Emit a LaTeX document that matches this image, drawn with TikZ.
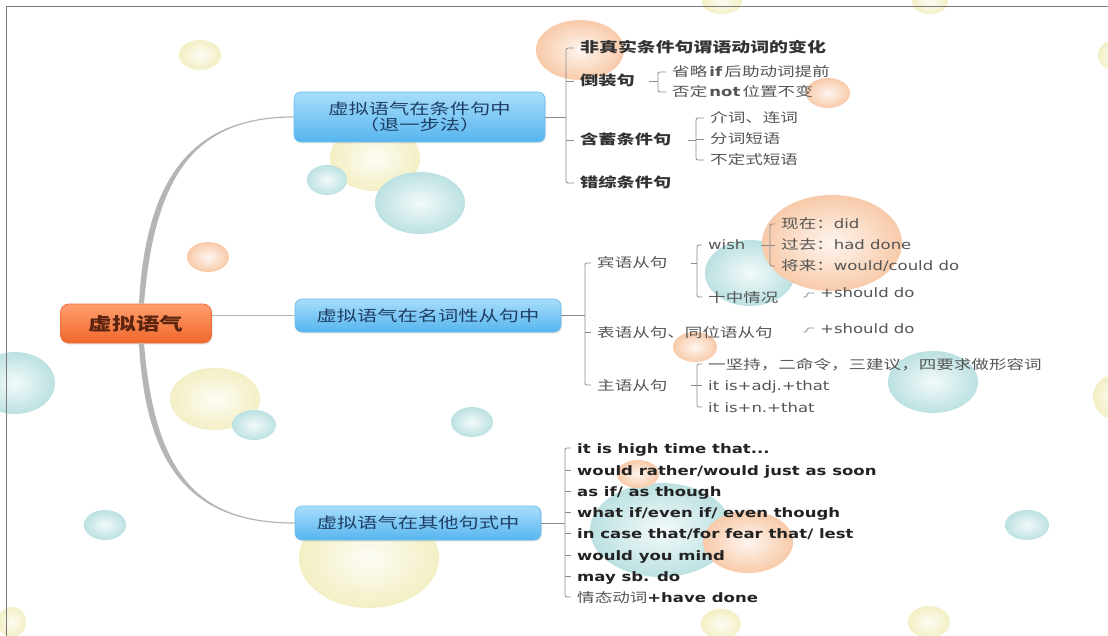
\documentclass[tikz,border=0pt]{standalone}
\usepackage{fontspec}
\newfontfamily\zhf[FakeStretch=1.35]{Noto Sans CJK SC}
\newfontfamily\ltf[FakeStretch=1.27]{DejaVu Sans}
\usetikzlibrary{shadows}
\definecolor{bTeal}{HTML}{BCE1E2}
\definecolor{bOrange}{HTML}{F8CAA9}
\definecolor{bYellow}{HTML}{F3EFC4}
\definecolor{brc}{HTML}{8C8C8C}
\definecolor{curvec}{HTML}{B5B5B5}
\definecolor{framec}{HTML}{7A7A7A}
\definecolor{boxt}{HTML}{A8DDFB}
\definecolor{boxbt}{HTML}{56B5EF}
\definecolor{boxbd}{HTML}{6BBDEB}
\definecolor{boxtx}{HTML}{1E3D63}
\definecolor{roott}{HTML}{FF9E6E}
\definecolor{rootb}{HTML}{F0672A}
\definecolor{rootbd}{HTML}{E86E38}
\definecolor{roottx}{HTML}{5A2410}
\definecolor{tA}{HTML}{333333}
\definecolor{tB}{HTML}{555555}
\definecolor{tC}{HTML}{222222}
\newcommand\bub[5]{\shade[inner color=#5!18!white, outer color=#5] (#1,#2) ellipse [x radius=#3pt, y radius=#4pt];}
\newcommand\Lt[1]{{\ltf #1}}
\newcommand\Lb[1]{{\ltf\bfseries #1}}
\begin{document}
\begin{tikzpicture}[x=1pt,y=-1pt,
  br/.style={draw=brc, line width=0.8pt},
  boxb/.style={rounded corners=7pt, draw=boxbd, line width=0.6pt, top color=boxt, bottom color=boxbt, text=boxtx,
    font=\zhf\fontsize{15}{16.5}\selectfont, align=center, inner sep=0pt,
    drop shadow={opacity=0.18, shadow xshift=1pt, shadow yshift=-1.5pt}},
  rootbox/.style={rounded corners=8pt, draw=rootbd, line width=0.6pt, top color=roott, bottom color=rootb, text=roottx,
    font=\zhf\bfseries\fontsize{17.5}{19}\selectfont, inner sep=0pt, minimum width=151pt, minimum height=39pt,
    drop shadow={opacity=0.18, shadow xshift=1pt, shadow yshift=-1.5pt}},
  itm/.style={anchor=west, inner xsep=6pt, inner ysep=1pt, text height=11.5pt, text depth=1.5pt},
  lA/.style={itm, font=\zhf\bfseries\fontsize{13.5}{15}\selectfont, text=tA},
  lA1/.style={itm, font=\zhf\bfseries\fontsize{14}{15}\selectfont, text=tA},
  lB/.style={itm, font=\zhf\fontsize{13}{15}\selectfont, text=tB},
  lE/.style={itm, font=\ltf\fontsize{13}{15}\selectfont, text=tB},
  lC/.style={itm, font=\ltf\bfseries\fontsize{13}{15}\selectfont, text=tC},
]
\useasboundingbox (0,0) rectangle (1108,636);
\fill[white] (0,0) rectangle (1108,636);
% background bubbles
\bub{200}{55}{21}{15}{bYellow}
\bub{722}{2}{20}{12}{bYellow}
\bub{930}{2}{18}{12}{bYellow}
\bub{1112}{55}{14}{14}{bYellow}
\bub{580}{50}{44}{30}{bOrange}
\bub{828}{93}{22}{15}{bOrange}
\bub{375}{158}{45}{33}{bYellow}
\bub{327}{180}{20}{15}{bTeal}
\bub{420}{203}{45}{31}{bTeal}
\bub{208}{257}{21}{15}{bOrange}
\bub{750}{273}{45}{33}{bTeal}
\bub{832}{243}{70}{48}{bOrange}
\bub{695}{347}{22}{15}{bOrange}
\bub{15}{383}{40}{31}{bTeal}
\bub{215}{399}{45}{31}{bYellow}
\bub{254}{425}{22}{15}{bTeal}
\bub{472}{422}{21}{15}{bTeal}
\bub{933}{382}{45}{31}{bTeal}
\bub{1115}{397}{22}{22}{bYellow}
\bub{105}{525}{21}{15}{bTeal}
\bub{1027}{525}{22}{15}{bTeal}
\bub{369}{558}{70}{50}{bYellow}
\bub{661}{530}{71}{47}{bTeal}
\bub{638}{474}{21}{14}{bOrange}
\bub{748}{542}{45}{31}{bOrange}
\bub{12}{622}{14}{15}{bYellow}
\bub{721}{624}{20}{15}{bYellow}
\bub{929}{622}{21}{16}{bYellow}
% frame
\draw[framec, line width=1pt] (6,636) -- (6,7) -- (1108,7);
% main nodes
\node[rootbox] (root) at (136,323.5) {虚拟语气};
\node[boxb, minimum width=251pt, minimum height=50pt] (A) at (419.5,117) {虚拟语气在条件句中\\（退一步法）};
\node[boxb, minimum width=266pt, minimum height=33pt] (B) at (428,315.5) {虚拟语气在名词性从句中};
\node[boxb, minimum width=246pt, minimum height=34pt] (C) at (418,523) {虚拟语气在其他句式中};
% connectors from root
\fill[curvec] ([shift={(3,0)}]root.north) .. controls +(7,-134) and +(-95,0) .. ([shift={(0,-0.6)}]A.west)
   -- ([shift={(0,0.6)}]A.west) .. controls +(-95,0) and +(11,-134) .. ([shift={(8,0)}]root.north) -- cycle;
\fill[curvec] ([shift={(3,0)}]root.south) .. controls +(7,134) and +(-95,0) .. ([shift={(0,0.6)}]C.west)
   -- ([shift={(0,-0.6)}]C.west) .. controls +(-95,0) and +(11,134) .. ([shift={(8,0)}]root.south) -- cycle;
\draw[curvec, line width=1.3pt] (root.east |- B.west) -- (B.west);
% ---- group A
\node[lA1] (a1) at (574,48) {非真实条件句谓语动词的变化};
\node[lA] (a2) at (574,81) {倒装句};
\node[lA] (a3) at (574,140) {含蓄条件句};
\node[lA] (a4) at (574,183) {错综条件句};
\node[lB] (a21) at (666,72) {省略\,\Lb{if}\,后助动词提前};
\node[lB] (a22) at (666,92) {否定\,\Lb{not}\,位置不变};
\node[lB] (a31) at (704,118) {介词、连词};
\node[lB] (a32) at (704,139) {分词短语};
\node[lB] (a33) at (704,160) {不定式短语};
\coordinate (sA) at (566,0);
\coordinate (s2) at (658,0);
\coordinate (s3) at (696,0);
\draw[br] (A.east) -- (A.east -| sA);
\draw[br, rounded corners=2pt] (a1.west) -| (sA |- a4.west) -- (a4.west);
\draw[br] (a2.west) -- (a2.west -| sA);
\draw[br] (a3.west) -- (a3.west -| sA);
\draw[br, shorten <=8pt] (a2.east) -- (a2.east -| s2);
\draw[br, rounded corners=2pt] (a21.west) -| (s2 |- a22.west) -- (a22.west);
\draw[br, shorten <=10pt] (a3.east) -- (a3.east -| s3);
\draw[br, rounded corners=2pt] (a31.west) -| (s3 |- a33.west) -- (a33.west);
\draw[br] (a32.west) -- (a32.west -| s3);
% ---- group B
\node[lB] (b1) at (591,263) {宾语从句};
\node[lB] (b2) at (591,332) {表语从句、同位语从句};
\node[lB] (b3) at (591,385) {主语从句};
\node[lE] (b11) at (702,245) {wish};
\node[lB] (b12) at (702,297) {十中情况};
\node[lB] (b111) at (775,224) {现在：\Lt{did}};
\node[lB] (b112) at (775,245) {过去：\Lt{had done}};
\node[lB] (b113) at (775,266) {将来：\Lt{would/could do}};
\node[lE] (b121) at (814,293) {+should do};
\node[lE] (b21) at (814,328) {+should do};
\node[lB] (b31) at (702,364) {一坚持，二命令，三建议，四要求做形容词};
\node[lE] (b32) at (702,385) {it is+adj.+that};
\node[lE] (b33) at (702,407) {it is+n.+that};
\coordinate (sB) at (585,0);
\coordinate (s11) at (697,0);
\coordinate (s111) at (770,0);
\coordinate (s31) at (697,0);
\draw[br] (B.east) -- (B.east -| sB);
\draw[br, rounded corners=2pt] (b1.west) -| (sB |- b3.west) -- (b3.west);
\draw[br] (b2.west) -- (b2.west -| sB);
\draw[br, shorten <=17pt] (b1.east) -- (b1.east -| s11);
\draw[br, rounded corners=2pt] (b11.west) -| (s11 |- b12.west) -- (b12.west);
\draw[br, shorten <=9pt] (b11.east) -- (b11.east -| s111);
\draw[br, rounded corners=2pt] (b111.west) -| (s111 |- b113.west) -- (b113.west);
\draw[br] (b112.west) -- (b112.west -| s111);
\coordinate (k1) at ([xshift=-11pt]b121.west);
\coordinate (k2) at ([xshift=-11pt]b21.west);
\draw[br, rounded corners=1.5pt] (k1 |- b12.east) -- ++(4,0) |- (b121.west);
\draw[br, rounded corners=1.5pt] (k2 |- b2.east) -- ++(4,0) |- (b21.west);
\draw[br, shorten <=17pt] (b3.east) -- (b3.east -| s31);
\draw[br, rounded corners=2pt] (b31.west) -| (s31 |- b33.west) -- (b33.west);
\draw[br] (b32.west) -- (b32.west -| s31);
% ---- group C
\node[lC] (c1) at (571,448) {it is high time that...};
\node[lC] (c2) at (571,470) {would rather/would just as soon};
\node[lC] (c3) at (571,491) {as if/ as though};
\node[lC] (c4) at (571,512) {what if/even if/ even though};
\node[lC] (c5) at (571,533) {in case that/for fear that/ lest};
\node[lC] (c6) at (571,555) {would you mind};
\node[lC] (c7) at (571,576) {may sb. do};
\node[lC] (c8) at (571,597) {{\zhf\mdseries\color{tB}情态动词}+have done};
\coordinate (sC) at (565,0);
\draw[br] (C.east) -- (C.east -| sC);
\draw[br, rounded corners=2pt] (c1.west) -| (sC |- c8.west) -- (c8.west);
\foreach \n in {c2,c3,c4,c5,c6,c7} \draw[br] (\n.west) -- (\n.west -| sC);
\end{tikzpicture}
\end{document}
